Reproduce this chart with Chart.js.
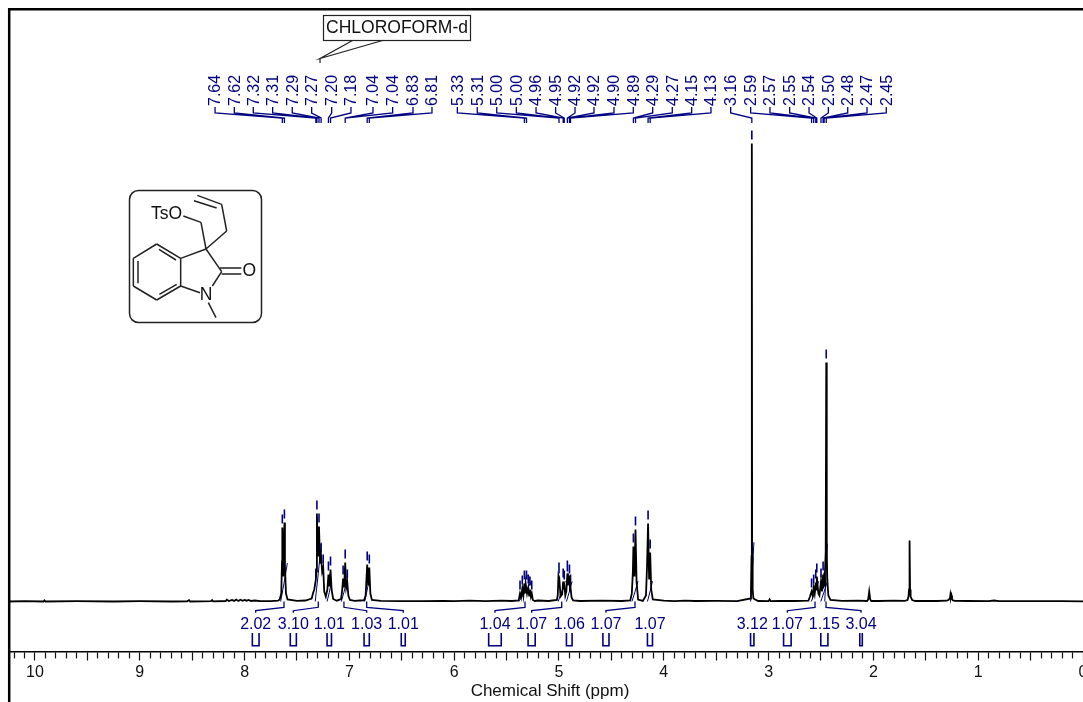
<!DOCTYPE html>
<html>
<head>
<meta charset="utf-8">
<title>1H NMR spectrum</title>
<script src="https://cdn.jsdelivr.net/npm/chart.js@4/dist/chart.umd.min.js"></script>
<style>
  body { margin: 0; background: #fff; }
  canvas { display: block; }
</style>
</head>
<body>
<canvas id="nmrChart" width="1083" height="702"></canvas>
<script>
// Trazo del espectro (ppm / intensidad)
const tracePpm = [
  10.25, 10.1, 9.92, 9.91, 9.9, 9.6, 9.25, 9.0, 8.7, 8.55, 8.53, 8.52, 8.32, 8.31, 8.3,
  8.18, 8.17, 8.15, 8.12, 8.1, 8.08, 8.06, 8.04, 8.02, 8.0, 7.98, 7.96, 7.94, 7.9, 7.85, 7.75, 7.68,
  7.665, 7.65, 7.643, 7.64, 7.63, 7.62, 7.615, 7.605, 7.59, 7.5, 7.42,
  7.36, 7.345, 7.335, 7.32, 7.315, 7.31, 7.3, 7.29, 7.28, 7.27, 7.26, 7.25, 7.24, 7.225,
  7.21, 7.2, 7.19, 7.18, 7.17, 7.155, 7.12,
  7.08, 7.07, 7.06, 7.05, 7.04, 7.03, 7.02, 7.01, 6.995, 6.95, 6.9,
  6.86, 6.845, 6.83, 6.82, 6.81, 6.8, 6.785, 6.7, 6.5, 6.3, 6.1, 6.0, 5.85, 5.7, 5.55, 5.45,
  5.385, 5.372, 5.362, 5.35, 5.34, 5.331, 5.325, 5.318, 5.305, 5.293, 5.285, 5.277, 5.268, 5.26, 5.25, 5.23,
  5.2, 5.1, 5.02, 5.012, 5.005, 4.998, 4.985, 4.97, 4.96, 4.955, 4.95, 4.94, 4.93, 4.92, 4.915, 4.91, 4.9, 4.895, 4.89, 4.88, 4.865,
  4.8, 4.6, 4.4, 4.32, 4.305, 4.295, 4.29, 4.28, 4.27, 4.26, 4.245, 4.2,
  4.17, 4.16, 4.15, 4.14, 4.13, 4.12, 4.105, 4.0, 3.9, 3.8, 3.7, 3.5, 3.3,
  3.175, 3.168, 3.163, 3.16, 3.157, 3.152, 3.145, 3.1, 3.0, 2.99, 2.98, 2.9, 2.75, 2.62,
  2.605, 2.59, 2.58, 2.57, 2.56, 2.55, 2.545, 2.54, 2.525, 2.515, 2.5, 2.49, 2.48, 2.475, 2.47,
  2.462, 2.455, 2.45, 2.445, 2.44, 2.43, 2.41, 2.3, 2.15, 2.06, 2.05, 2.04, 2.03, 2.02,
  1.95, 1.8, 1.7, 1.675, 1.665, 1.66, 1.655, 1.65, 1.645, 1.63, 1.6, 1.4, 1.3,
  1.285, 1.27, 1.265, 1.26, 1.255, 1.25, 1.24, 1.22, 1.1, 0.9, 0.85, 0.8, 0.5, 0.2, 0
];
const traceIntensity = [
  0, 0.3, 0, 1.2, 0, 0.3, 0, 0.3, 0, 0.2, 1.3, 0, 0.4, 1.5, 0.2,
  0.5, 1.8, 0.4, 1.5, 0.6, 2, 0.5, 1.8, 0.7, 1.6, 0.8, 1.5, 0.5, 1, 0.3, 0.4, 0.8,
  2, 8, 40, 74, 25, 79, 35, 8, 2, 0.6, 1,
  3, 9, 12, 22, 30, 88, 45, 75, 38, 45, 30, 34, 10, 5,
  12, 27, 15, 32, 12, 2.5, 0.8,
  2.5, 10, 23, 14, 39, 14, 19, 6, 1.5, 0.6, 1,
  1.2, 6, 37, 16, 34, 8, 1.5, 0.6, 0.4, 0.3, 0.6, 0.3, 0.8, 0.4, 0.9, 0.5,
  1, 8, 4, 13, 6, 18, 8, 18, 8, 14, 6, 12, 5, 8, 1.5, 0.5,
  1, 0.5, 1.5, 6, 26, 24, 5, 7, 20, 12, 18, 6, 10, 28, 16, 26, 24, 13, 14, 4, 1,
  0.5, 0.8, 0.5, 1, 8, 30, 55, 25, 72, 20, 2, 0.6,
  6, 35, 78, 22, 49, 12, 2, 0.9, 0.4, 0.8, 0.5, 0.6, 0.4,
  3, 12, 45, 458, 45, 12, 3, 0.5, 0.3, 2.2, 0.4, 0.7, 0.5, 0.8,
  5, 10, 6, 14, 8, 19, 12, 25, 8, 6, 20, 10, 27, 15, 16,
  30, 50, 239, 50, 22, 6, 1.5, 0.6, 0.8, 0.5, 2, 10, 2, 0.5,
  0.5, 0.8, 0.6, 1.5, 5, 12, 61, 12, 5, 1.5, 0.5, 0.5, 0.8,
  1.5, 3, 7, 4, 6, 2.5, 1, 0.6, 0.5, 0.4, 1, 0.3, 0.3, 0.3, 0.2
];

// Picos marcados: desplazamiento e intensidad
const peakPpm = [
  7.64, 7.62, 7.32, 7.31, 7.29, 7.27, 7.2, 7.18, 7.04, 7.04, 6.83, 6.81,
  5.33, 5.31, 5.0, 5.0, 4.96, 4.95, 4.92, 4.92, 4.9, 4.89, 4.29, 4.27, 4.15, 4.13,
  3.16, 2.59, 2.57, 2.55, 2.54, 2.5, 2.48, 2.47, 2.45
];
const peakHeight = [
  74, 79, 20, 88, 75, 45, 27, 32, 39, 39, 37, 34,
  18, 18, 26, 24, 20, 18, 28, 26, 24, 14, 55, 72, 78, 49,
  458, 10, 14, 19, 25, 20, 27, 16, 239
];
// Posicion de cada rotulo, en ppm de la escala
const peakLabelPpm = [
  8.282, 8.098, 7.917, 7.732, 7.545, 7.36, 7.169, 6.985, 6.775, 6.587, 6.393, 6.212,
  5.97, 5.78, 5.594, 5.407, 5.219, 5.032, 4.847, 4.666, 4.475, 4.291, 4.106, 3.919, 3.734, 3.55,
  3.362, 3.171, 2.987, 2.799, 2.614, 2.43, 2.245, 2.061, 1.877
];
// Marcas sin rotulo dentro de los multipletes
const extraMarkPpm = [7.25, 7.06, 7.02, 5.372, 5.35, 5.293, 5.277, 5.26];
const extraMarkHeight = [34, 23, 19, 8, 13, 14, 12, 8];

// Integrales
const integralLabels = ["2.02", "3.10", "1.01", "1.03", "1.01", "1.04", "1.07", "1.06", "1.07", "1.07", "3.12", "1.07", "1.15", "3.04"];
const integralPpm = [7.624, 7.297, 7.192, 7.052, 6.835, 5.324, 4.974, 4.902, 4.275, 4.132, 3.156, 2.557, 2.468, 2.452];
const integralLabelPpm = [7.894, 7.535, 7.192, 6.835, 6.486, 5.611, 5.261, 4.902, 4.552, 4.132, 3.156, 2.821, 2.468, 2.118];
const integralHalfWidth = [0.032, 0.029, 0.021, 0.025, 0.019, 0.06, 0.034, 0.027, 0.029, 0.024, 0.016, 0.036, 0.034, 0.012];

const tickSteps = 0.1;
const solventLabel = "CHLOROFORM-d";
const solventPpm = 7.28;
const axisTitle = "Chemical Shift (ppm)";
const axisTitlePpm = 5.086;

const navy = "#000080";
const font = '"Liberation Sans", Arial, sans-serif';

// Une tramos sueltos en una sola serie, separados por huecos
function joinSegments(segments) {
  const points = [];
  segments.forEach((seg) => {
    seg.forEach((p) => points.push({ x: p[0], y: p[1] }));
    points.push({ x: seg[seg.length - 1][0], y: null });
  });
  return points;
}

const spectrumPoints = tracePpm.map((p, i) => ({ x: p, y: traceIntensity[i] }));

const peakLeaders = joinSegments(
  peakPpm.map((p, i) => [
    [peakLabelPpm[i], 494.5],
    [peakLabelPpm[i], 488.5],
    [p, 483.5],
    [p, 478.5],
  ])
);

const peakMarks = joinSegments(
  peakPpm
    .map((p, i) => [
      [p, peakHeight[i] + 4],
      [p, peakHeight[i] + 13],
    ])
    .concat(
      extraMarkPpm.map((p, i) => [
        [p, extraMarkHeight[i] + 4],
        [p, extraMarkHeight[i] + 13],
      ])
    )
);

const integralCurves = joinSegments(
  integralPpm.map((p, i) => [
    [p + integralHalfWidth[i], 0],
    [p, parseFloat(integralLabels[i]) * 9],
    [p - integralHalfWidth[i], parseFloat(integralLabels[i]) * 19],
  ])
);

const integralLeaders = joinSegments(
  integralPpm
    .map((p, i) => [
      [p, 0],
      [p, -5.8],
      [integralLabelPpm[i], -9.2],
      [integralLabelPpm[i], -11.2],
    ])
    .filter((seg, i) => Math.abs(integralPpm[i] - integralLabelPpm[i]) > 0.03)
);

const integralBrackets = joinSegments(
  integralLabelPpm.map((p, i) => [
    [p + integralHalfWidth[i], -31.5],
    [p + integralHalfWidth[i], -44.2],
    [p - integralHalfWidth[i], -44.2],
    [p - integralHalfWidth[i], -31.5],
  ])
);

// Textos, marco, llamada del disolvente y estructura
const annotations = {
  id: "annotations",
  afterDraw(chart) {
    const { ctx, scales } = chart;
    const x = scales.x;
    const y = scales.y;
    ctx.save();

    // Marco superior e izquierdo
    ctx.strokeStyle = "#000";
    ctx.lineWidth = 2.5;
    ctx.beginPath();
    ctx.moveTo(9.2, 702);
    ctx.lineTo(9.2, 9.2);
    ctx.lineTo(1083, 9.2);
    ctx.stroke();

    // Rotulos de picos
    ctx.fillStyle = navy;
    ctx.font = "16px " + font;
    ctx.textAlign = "left";
    ctx.textBaseline = "middle";
    peakPpm.forEach((p, i) => {
      ctx.save();
      ctx.translate(x.getPixelForValue(peakLabelPpm[i]), y.getPixelForValue(495.5));
      ctx.rotate(-Math.PI / 2);
      ctx.fillText(p.toFixed(2), 0, 1);
      ctx.restore();
    });

    // Rotulos de integrales
    ctx.textAlign = "center";
    integralLabels.forEach((label, i) => {
      ctx.fillText(label, x.getPixelForValue(integralLabelPpm[i]), y.getPixelForValue(-22.8));
    });

    // Titulo del eje
    ctx.fillStyle = "#111";
    ctx.font = "17px " + font;
    ctx.fillText(axisTitle, x.getPixelForValue(axisTitlePpm), 691);

    // Llamada del disolvente
    const tipX = x.getPixelForValue(solventPpm);
    ctx.strokeStyle = "#222";
    ctx.lineWidth = 1.2;
    ctx.fillStyle = "#fff";
    ctx.beginPath();
    ctx.moveTo(352.5, 40.5);
    ctx.lineTo(tipX, 58.5);
    ctx.lineTo(382.5, 40.5);
    ctx.moveTo(tipX, 58);
    ctx.lineTo(tipX, 63);
    ctx.stroke();
    ctx.fillRect(323.5, 15.5, 147, 25);
    ctx.strokeRect(323.5, 15.5, 147, 25);
    ctx.fillStyle = "#111";
    ctx.font = "17.5px " + font;
    ctx.fillText(solventLabel, 397, 28);

    drawStructure(ctx);
    ctx.restore();
  },
};

// Molecula: coordenadas tomadas de la ampliacion (x3) del recuadro
function drawStructure(ctx) {
  const px = (v) => 120 + v / 3;
  const py = (v) => 180 + v / 3;
  const bonds = [
    [110, 192, 182, 235], [182, 235, 182, 318], [182, 318, 110, 360],
    [110, 360, 40, 318], [40, 318, 40, 235], [40, 235, 110, 192],
    [117, 208, 168, 240], [54, 243, 54, 310], [118, 343, 170, 313],
    [182, 235, 258, 207], [258, 207, 305, 275], [305, 275, 277, 318],
    [182, 318, 240, 338], [265, 368, 288, 413],
    [300, 264, 364, 264], [305, 282, 364, 282],
    [258, 207, 243, 127], [243, 127, 190, 108],
    [258, 207, 320, 153], [320, 153, 305, 73], [305, 73, 232, 46], [290, 84, 222, 62],
  ];
  ctx.strokeStyle = "#222";
  ctx.lineWidth = 1.5;
  ctx.beginPath();
  ctx.roundRect(129.5, 190.5, 132, 132, 9);
  ctx.stroke();
  ctx.beginPath();
  bonds.forEach((b) => {
    ctx.moveTo(px(b[0]), py(b[1]));
    ctx.lineTo(px(b[2]), py(b[3]));
  });
  ctx.stroke();
  ctx.fillStyle = "#111";
  ctx.font = "17.5px " + font;
  ctx.textAlign = "right";
  ctx.fillText("TsO", px(186), py(104));
  ctx.textAlign = "center";
  ctx.fillText("O", px(388), py(275));
  ctx.fillText("N", px(258), py(345));
}

function isHalfTick(value) {
  return Math.abs(value * 2 - Math.round(value * 2)) < 1e-6;
}

function lineSet(data, color, width) {
  return {
    data: data,
    borderColor: color,
    borderWidth: width,
    pointRadius: 0,
    tension: 0,
    fill: false,
    spanGaps: false,
  };
}

new Chart(document.getElementById("nmrChart"), {
  type: "line",
  data: {
    datasets: [
      lineSet(spectrumPoints, "#000", 1.8),
      lineSet(integralCurves, navy, 1),
      lineSet(peakLeaders, navy, 1.3),
      lineSet(peakMarks, navy, 1.6),
      lineSet(integralLeaders, navy, 1.3),
      lineSet(integralBrackets, navy, 1.6),
    ],
  },
  options: {
    responsive: false,
    animation: false,
    layout: { padding: { left: 9, top: 9, right: 0, bottom: 0 } },
    plugins: { legend: { display: false }, tooltip: { enabled: false } },
    scales: {
      x: {
        type: "linear",
        reverse: true,
        min: 0,
        max: 10.248,
        afterFit(scale) {
          scale.height = 50.5;
          scale.paddingLeft = 0;
          scale.paddingRight = 0;
        },
        border: { display: true, color: "#000", width: 1.4 },
        grid: {
          drawOnChartArea: false,
          drawTicks: true,
          tickLength: 9,
          tickColor: "#111",
          tickWidth: 1.2,
          tickBorderDash: (c) => (isHalfTick(c.tick.value) ? [] : [6, 100]),
        },
        ticks: {
          stepSize: tickSteps,
          includeBounds: false,
          autoSkip: false,
          maxRotation: 0,
          padding: 2,
          color: "#111",
          font: { family: font, size: 16 },
          callback: (v) => (Math.abs(v - Math.round(v)) < 1e-6 ? String(Math.round(v)) : ""),
        },
      },
      y: { display: false, min: -50, max: 592.5 },
    },
  },
  plugins: [annotations],
});
</script>
</body>
</html>
